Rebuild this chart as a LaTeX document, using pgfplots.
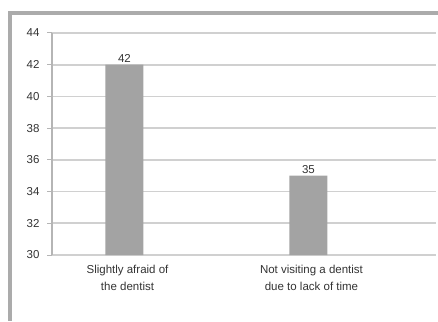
\documentclass[border=0pt]{standalone}
\usepackage{pgfplots}
\pgfplotsset{compat=1.18}
\usepackage{fontspec}
\setmainfont{Liberation Sans}
\definecolor{barfill}{HTML}{A3A3A3}
\definecolor{gridc}{HTML}{D0D0D0}
\definecolor{axisc}{HTML}{B5B5B5}
\definecolor{framec}{HTML}{ABABAB}
\definecolor{textc}{HTML}{333333}
\begin{document}
\begin{tikzpicture}[x=1pt,y=1pt]
  \useasboundingbox (0,0) rectangle (438,321);
  % outer chart frame (left and top edges)
  \fill[framec] (8,0) rectangle (12,310);
  \fill[framec] (8,306) rectangle (438,310);
  \begin{axis}[
    at={(52pt,66pt)}, anchor=south west,
    scale only axis, width=384pt, height=222pt,
    ymin=30, ymax=44, ytick={30,32,...,44},
    xmin=-0.394, xmax=1.693,
    xtick={0,1},
    xticklabels={{Slightly afraid of\\the dentist},{Not visiting a dentist\\due to lack of time}},
    xticklabel style={align=center, text=textc, font=\fontsize{11.5}{17}\selectfont, xshift=3pt, yshift=-2pt},
    yticklabel style={text=textc, font=\fontsize{11.5}{13}\selectfont, xshift=-4pt},
    /pgf/number format/assume math mode=true,
    axis x line*=bottom, axis y line*=left,
    axis line style={axisc, line width=1.2pt},
    x axis line style={draw=none},
    ymajorgrids, grid style={gridc, line width=1.6pt},
    tick align=outside, major tick length=5pt,
    ytick style={axisc, line width=1pt},
    xtick style={draw=none},
    ybar, bar width=38pt,
    nodes near coords,
    nodes near coords style={text=textc, font=\fontsize{11.5}{13}\selectfont, yshift=-1pt},
    clip=false,
  ]
    \addplot[fill=barfill, draw=none] coordinates {(0,42) (1,35)};
  \end{axis}
\end{tikzpicture}
\end{document}
